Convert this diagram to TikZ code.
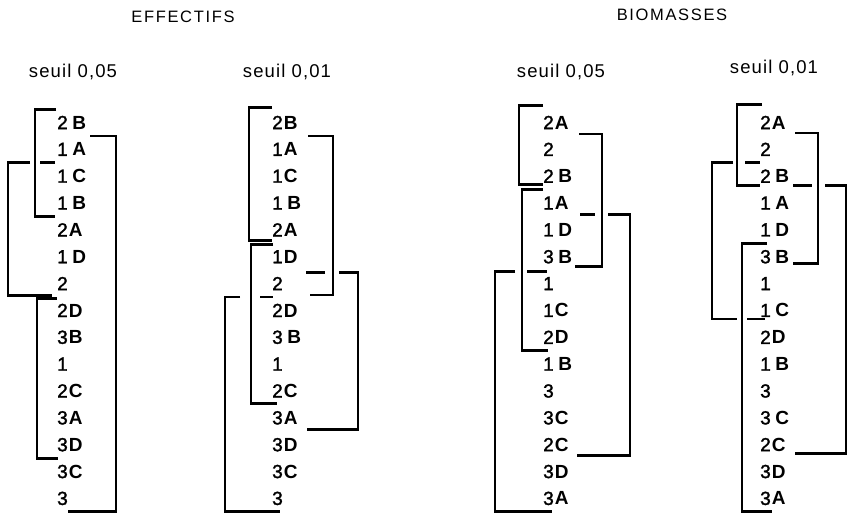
\documentclass[tikz,border=0pt]{standalone}
\usepackage{fontspec}
\setmainfont{Liberation Sans}
\newfontfamily\digitfont[FakeBold=1.6]{Liberation Sans}
% group label: digit, small or wide gap, bold letter
\newcommand\Ln[2]{{\digitfont #1}\kern1pt\textbf{#2}}
\newcommand\Lw[2]{{\digitfont #1}\kern4.5pt\textbf{#2}}
\newcommand\Ld[1]{{\digitfont #1}}
% bracket: vertical x, top boundary k, top shift, bottom boundary k, bottom shift, top free end x, bottom free end x
\newcommand\brk[7]{%
  \pgfmathsetmacro\ytop{109.1+26.85*#2+#3}%
  \pgfmathsetmacro\ybot{109.1+26.85*#4+#5}%
  \draw[brkt] (#6,\ytop) -- (#1,\ytop) -- (#1,\ybot) -- (#7,\ybot);}
% short piece of a bracket's arm beyond a crossing: x1, x2, boundary k, shift
\newcommand\arm[4]{%
  \pgfmathsetmacro\yarm{109.1+26.85*#3+#4}%
  \draw[brkt] (#1,\yarm) -- (#2,\yarm);}
\begin{document}
\begin{tikzpicture}[x=1pt,y=-1pt,
  lab/.style={anchor=west,inner sep=0pt,font=\fontsize{19}{19}\selectfont},
  title/.style={inner sep=0pt,font=\fontsize{16.5}{17}\selectfont\addfontfeature{LetterSpace=10}},
  thresh/.style={inner sep=0pt,font=\fontsize{18.5}{19}\selectfont\addfontfeature{LetterSpace=6}},
  brkt/.style={line width=2.8pt,line join=miter}]
\useasboundingbox (0,0) rectangle (852,515);

% headings
\node[title] (tEff) at (183,17) {EFFECTIFS};
\node[title] (tBio) at (672,15) {BIOMASSES};
\node[thresh] (s1) at (73,72) {seuil 0,05};
\node[thresh] (s2) at (287,72) {seuil 0,01};
\node[thresh] (s3) at (561,72) {seuil 0,05};
\node[thresh] (s4) at (774,68) {seuil 0,01};

% ---- EFFECTIFS, seuil 0,05 ----
\foreach \t [count=\i from 0] in {{\Lw{2}{B}},{\Lw{1}{A}},{\Lw{1}{C}},{\Lw{1}{B}},{\Ln{2}{A}},{\Lw{1}{D}},{\Ld{2}},{\Ln{2}{D}},{\Ln{3}{B}},{\Ld{1}},{\Ln{2}{C}},{\Ln{3}{A}},{\Ln{3}{D}},{\Ln{3}{C}},{\Ld{3}}}
  \node[lab] (a\i) at (57,{122.5+26.85*\i}) {\t};
\brk{35}{0}{0}{4}{0}{56}{55}
\brk{116}{1}{0}{15}{0}{90}{68}
\brk{8}{2}{0}{7}{-1.5}{30}{52}
\arm{40}{55}{2}{0}
\brk{37}{7}{1.5}{13}{0}{57}{58}

% ---- EFFECTIFS, seuil 0,01 ----
\foreach \t [count=\i from 0] in {{\Ln{2}{B}},{\Ln{1}{A}},{\Ln{1}{C}},{\Lw{1}{B}},{\Ln{2}{A}},{\Ln{1}{D}},{\Ld{2}},{\Ln{2}{D}},{\Lw{3}{B}},{\Ld{1}},{\Ln{2}{C}},{\Ln{3}{A}},{\Ln{3}{D}},{\Ln{3}{C}},{\Ld{3}}}
  \node[lab] (b\i) at (272,{122.5+26.85*\i}) {\t};
\brk{249}{0}{-1.5}{5}{-2.5}{272}{272}
\brk{251}{5}{1.5}{11}{-1}{273}{277}
\brk{333}{1}{0}{7}{-2}{308}{310}
\brk{358}{6}{2}{12}{-2}{339}{307}
\arm{306}{325}{6}{2}
\brk{225}{7}{0}{15}{0}{240}{280}
\arm{260}{273}{7}{0}

% ---- BIOMASSES, seuil 0,05 ----
\foreach \t [count=\i from 0] in {{\Ln{2}{A}},{\Ld{2}},{\Lw{2}{B}},{\Ln{1}{A}},{\Lw{1}{D}},{\Lw{3}{B}},{\Ld{1}},{\Ln{1}{C}},{\Ln{2}{D}},{\Lw{1}{B}},{\Ld{3}},{\Ln{3}{C}},{\Ln{2}{C}},{\Ln{3}{D}},{\Ln{3}{A}}}
  \node[lab] (c\i) at (543,{122.5+26.85*\i}) {\t};
\brk{519}{0}{-4}{3}{-5}{543}{543}
\brk{522}{3}{0}{9}{0}{543}{548}
\brk{602}{1}{-2}{6}{-4}{579}{575}
\brk{630}{4}{-2}{13}{-3}{608}{577}
\arm{580}{595}{4}{-2}
\brk{495}{6}{1}{15}{0}{515}{552}
\arm{527}{547}{6}{1}

% ---- BIOMASSES, seuil 0,01 ----
\foreach \t [count=\i from 0] in {{\Ln{2}{A}},{\Ld{2}},{\Lw{2}{B}},{\Lw{1}{A}},{\Lw{1}{D}},{\Lw{3}{B}},{\Ld{1}},{\Lw{1}{C}},{\Ln{2}{D}},{\Lw{1}{B}},{\Ld{3}},{\Lw{3}{C}},{\Ln{2}{C}},{\Ln{3}{D}},{\Ln{3}{A}}}
  \node[lab] (d\i) at (760,{122.5+26.85*\i}) {\t};
\brk{737}{0}{-5}{3}{-4}{762}{760}
\brk{712}{2}{0}{8}{-5}{733}{737}
\arm{745}{760}{2}{0}
\arm{747}{765}{8}{-5}
\brk{742}{5}{0}{15}{0}{767}{772}
\brk{818}{1}{-3}{6}{-7}{795}{793}
\brk{846}{3}{-4}{13}{-5}{825}{795}
\arm{793}{812}{3}{-4}
\end{tikzpicture}
\end{document}
